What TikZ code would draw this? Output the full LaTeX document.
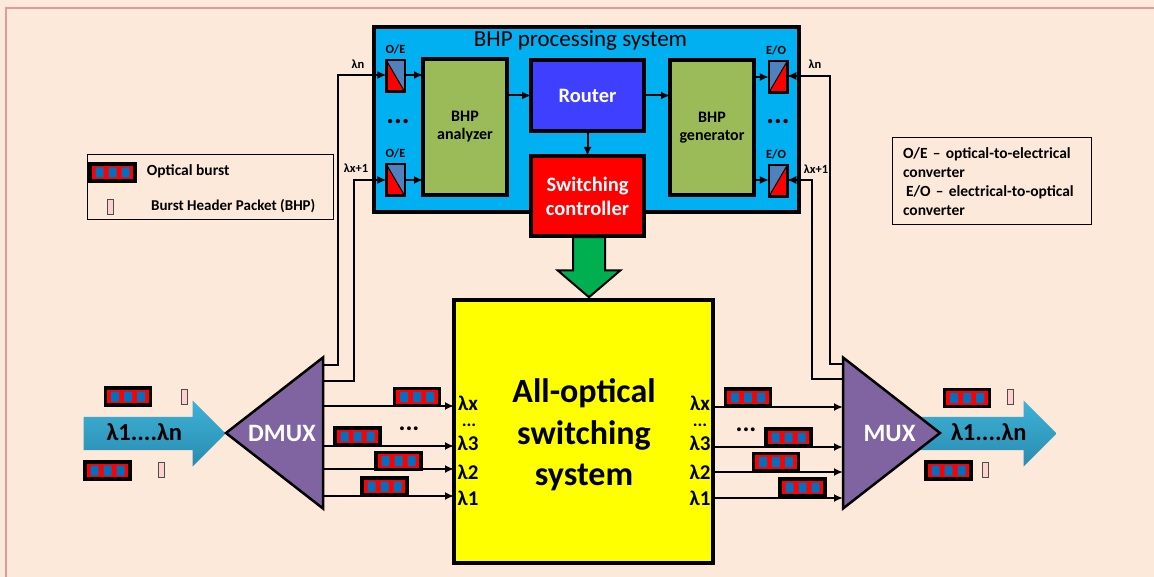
\documentclass[tikz,border=0pt]{standalone}
\usepackage{fontspec}
\setmainfont{Carlito}
\usetikzlibrary{arrows.meta,shapes.geometric,shapes.arrows,positioning}
\definecolor{pagepeach}{HTML}{FDE9D9}
\definecolor{pageedge}{HTML}{E39A9A}
\definecolor{systemblue}{HTML}{00B0F0}
\definecolor{olivegreen}{HTML}{9BBB59}
\definecolor{routerblue}{HTML}{3F3FFF}
\definecolor{steelblue}{HTML}{4F81BD}
\definecolor{burstblue}{HTML}{0070C0}
\definecolor{muxpurple}{HTML}{8064A2}
\definecolor{arrowgreen}{HTML}{00B050}
\definecolor{headerpink}{HTML}{FFD0D0}
\definecolor{flowtop}{HTML}{3DB2D6}
\definecolor{flowbottom}{HTML}{2A8BB0}
\definecolor{blockyellow}{HTML}{FFFF00}
\newcommand{\pxfont}[1]{\fontsize{#1}{#1}\selectfont}

\begin{document}
\begin{tikzpicture}[
  x=1pt,y=-1pt,
  >={Latex[length=9pt,width=8pt]},
  block/.style={rectangle,draw=black,line width=4pt,outer sep=0pt,align=center,font=\fontsize{16}{18}\bfseries\selectfont},
  oebox/.style={rectangle,draw=black,line width=2.5pt,minimum width=18.5pt,minimum height=31.5pt,outer sep=0pt,fill=steelblue,
    path picture={\fill[red] (path picture bounding box.north west) -- (path picture bounding box.south west) -- (path picture bounding box.south east) -- cycle;
      \draw[line width=1pt] (path picture bounding box.north west) -- (path picture bounding box.south east);}},
  eobox/.style={rectangle,draw=black,line width=2.5pt,minimum width=18.5pt,minimum height=31.5pt,outer sep=0pt,fill=steelblue,
    path picture={\fill[red] (path picture bounding box.north east) -- (path picture bounding box.south east) -- (path picture bounding box.south west) -- cycle;
      \draw[line width=1pt] (path picture bounding box.north east) -- (path picture bounding box.south west);}},
  burst/.style={rectangle,draw=black,line width=3.5pt,fill=red,minimum width=45pt,minimum height=17pt,inner sep=0pt,
    path picture={\begin{scope}[shift={(path picture bounding box.center)}]
      \fill[burstblue] (-17,-5) rectangle (-9,5) (-4,-5) rectangle (4,5) (9,-5) rectangle (17,5);
      \end{scope}}},
  header/.style={rectangle,draw=black!70,line width=1pt,fill=headerpink,minimum width=6pt,minimum height=15pt,inner sep=0pt},
  mux/.style={isosceles triangle,isosceles triangle stretches,draw=black,line width=2.5pt,fill=muxpurple,inner sep=0pt,outer sep=0pt,
    minimum width=151pt,minimum height=97pt,text=white,font=\pxfont{25}\bfseries},
  flow/.style={single arrow,single arrow head extend=16.5pt,minimum width=66pt,minimum height=142pt,inner xsep=0pt,inner ysep=8.5pt,
    text height=15pt,text depth=1pt,top color=flowtop,bottom color=flowbottom,draw=none,font=\pxfont{24.5}\bfseries},
  tag/.style={inner sep=0pt,font=\pxfont{12.5}\bfseries},
  wavelength/.style={inner sep=0pt,font=\pxfont{21}\bfseries},
  legendtext/.style={inner sep=0pt,font=\pxfont{15.5}\bfseries},
  legend/.style={rectangle,draw=black,line width=1pt,inner sep=0pt},
  wire/.style={->,line width=2pt},
  fibre/.style={->,line width=1.3pt}]

  \useasboundingbox (0,0) rectangle (1154,577);

  % page
  \fill[pagepeach] (0,0) rectangle (1154,577);
  \draw[pageedge,line width=2.5pt] (6,577) -- (6,8) -- (1154,8);

  % flows go under the triangles
  \node[flow,anchor=tip] (inflow) at (226,433.5) {λ1....λn\hspace*{4pt}};
  \node[flow,anchor=tip,minimum height=147pt] (outflow) at (1057,433.5) {\hspace*{28pt}λ1....λn};

  % main blocks
  \node[block,fill=blockyellow,minimum width=259pt,minimum height=263pt] (switch) at (583.5,431.5) {};
  \node[align=center,inner sep=0pt,font=\fontsize{34}{41.5}\bfseries\selectfont] (switch label) at (584,435) {All-optical\\switching\\system};
  \node[mux,shape border rotate=180,anchor=apex] (dmux) at (226,433) {DMUX};
  \node[mux,anchor=apex] (mux) at (940,433) {\hspace*{12pt}MUX};

  % processing system
  \node[block,line width=4.5pt,fill=systemblue,minimum width=425pt,minimum height=185pt] (system) at (586.5,119.5) {};
  \node[inner sep=0pt,font=\pxfont{23}] (system title) [below=3pt of system.north, xshift=-6pt] {BHP processing system};
  \node[block,fill=routerblue,text=white,minimum width=113pt,minimum height=71pt,font=\pxfont{20.5}\bfseries] (router) [below=33pt of system.north, xshift=1pt] {Router};
  \node[block,fill=red,text=white,minimum width=113pt,minimum height=80pt,font=\fontsize{20.5}{24}\bfseries\selectfont] (controller) [below=25pt of router] {Switching\\controller};
  \node[block,fill=olivegreen,minimum width=84pt,minimum height=136pt] (analyzer) [left=24pt of router, yshift=-31.5pt] {BHP\\analyzer};
  \node[block,fill=olivegreen,minimum width=84pt,minimum height=135pt] (generator) [right=26pt of router, yshift=-32pt] {BHP\\generator};

  \node[oebox] (oe top) at (395.5,76) {};
  \node[oebox] (oe bottom) [below=72.5pt of oe top] {};
  \node[eobox] (eo top) at (778,77) {};
  \node[eobox] (eo bottom) [below=72.5pt of eo top] {};
  \node[tag] (oe top tag) [above=5.5pt of oe top] {O/E};
  \node[tag] (oe bottom tag) [above=5.5pt of oe bottom] {O/E};
  \node[tag] (eo top tag) [above=5.5pt of eo top, xshift=-2pt] {E/O};
  \node[tag] (eo bottom tag) [above=5.5pt of eo bottom, xshift=-2pt] {E/O};
  \node[inner sep=0pt,font=\pxfont{29}\bfseries] (oe dots) at (398,122) {...};
  \node[inner sep=0pt,font=\pxfont{29}\bfseries] (eo dots) at (778,122) {...};

  \node[tag] (in n) at (358,64) {λn};
  \node[tag] (in x) at (356,168) {λx+1};
  \node[tag] (out n) at (815,64) {λn};
  \node[tag] (out x) at (816,169) {λx+1};

  % green arrow from controller to the switch
  \node[single arrow,single arrow head extend=15.5pt,single arrow tip angle=99,minimum width=61pt,minimum height=60pt,inner xsep=0pt,inner ysep=15pt,
    draw=black,line width=2pt,fill=arrowgreen,rotate=-90,anchor=tip] (command) at (589,298.5) {};

  % wavelength labels
  \node[wavelength] (in lx) at (468,403) {λx};
  \node[wavelength,font=\pxfont{18}\bfseries] (in dots) at (469,425) {...};
  \node[wavelength] (in l3) at (468,443) {λ3};
  \node[wavelength] (in l2) at (468,472) {λ2};
  \node[wavelength] (in l1) at (468,498) {λ1};
  \node[wavelength] (out lx) at (700,403) {λx};
  \node[wavelength,font=\pxfont{18}\bfseries] (out dots) at (700,425) {...};
  \node[wavelength] (out l3) at (700,443) {λ3};
  \node[wavelength] (out l2) at (700,472) {λ2};
  \node[wavelength] (out l1) at (700,498) {λ1};

  % free ends on the triangles
  \coordinate (dmux n) at (323,365);
  \coordinate (dmux x) at (323,381);
  \coordinate (mux n) at (843,364);
  \coordinate (mux x) at (843,379);

  \draw[fibre] (dmux n) -| (338,75) -- (oe top.west |- 0,75);
  \draw[fibre] (dmux x) -| (354,180) -- (oe bottom.west |- 0,180);
  \draw[fibre] (mux n) -| (830,76) -- (eo top.east |- 0,76);
  \draw[fibre] (mux x) -| (812,180) -- (eo bottom.east |- 0,180);

  \draw[wire] (oe top.east |- 0,75) -- (analyzer.west |- 0,75);
  \draw[wire] (oe bottom.east |- 0,180) -- (analyzer.west |- 0,180);
  \draw[wire] (analyzer.east |- router.west) -- (router.west);
  \draw[wire] (router.east) -- (generator.west |- router.east);
  \draw[wire] (router.south) -- (controller.north);
  \draw[fibre] (generator.east |- 0,77) -- (eo top.west |- 0,77);
  \draw[fibre] (generator.east |- 0,180) -- (eo bottom.west |- 0,180);

  \draw[wire] (323,406) -- (switch.west |- 0,406);
  \draw[wire] (323,446) -- (switch.west |- 0,446);
  \draw[wire] (323,469) -- (switch.west |- 0,469);
  \draw[wire] (323,496) -- (switch.west |- 0,496);
  \draw[wire] (switch.east |- 0,407) -- (843,407);
  \draw[wire] (switch.east |- 0,447) -- (843,447);
  \draw[wire] (switch.east |- 0,472) -- (843,472);
  \draw[wire] (switch.east |- 0,498) -- (843,498);

  % bursts and their headers
  \node[burst] (in burst a) at (128,396.5) {};
  \node[header] (in header a) at (184,397) {};
  \node[burst] (in burst b) at (107.5,470.5) {};
  \node[header] (in header b) at (161,470) {};
  \node[burst] (dmux burst x) at (417,397) {};
  \node[burst] (dmux burst c) at (357.5,436.5) {};
  \node[burst] (dmux burst b) at (398.5,461) {};
  \node[burst] (dmux burst a) at (384.5,486.5) {};
  \node[inner sep=0pt,font=\pxfont{26}\bfseries] (dmux dots) at (409,429) {...};
  \node[burst] (mux burst x) at (748,397.5) {};
  \node[burst] (mux burst c) at (788.5,437.5) {};
  \node[burst] (mux burst b) at (776,462) {};
  \node[burst] (mux burst a) at (802.5,487.5) {};
  \node[inner sep=0pt,font=\pxfont{26}\bfseries] (mux dots) at (746,430) {...};
  \node[burst] (out burst a) at (967,398) {};
  \node[header] (out header a) at (1010,397) {};
  \node[burst] (out burst b) at (948.5,470.5) {};
  \node[header] (out header b) at (985,470) {};

  % legends
  \node[legend,minimum width=246pt,minimum height=65pt] (burst legend) at (210,187.5) {};
  \node[burst] (legend burst) at (112.5,172.5) {};
  \node[header] (legend header) at (110.5,207.5) {};
  \node[legendtext] (legend burst text) [right=10pt of legend burst, yshift=1.5pt] {Optical burst};
  \node[legendtext,font=\pxfont{15}\bfseries] (legend header text) [right=37pt of legend header, yshift=1pt] {Burst Header Packet (BHP)};
  \node[legend,minimum width=199pt,minimum height=87pt,text width=177pt,align=left,font=\fontsize{15.5}{19}\bfseries\selectfont] (converter legend) at (991.5,181.5) {O/E – optical-to-electrical\\converter\\\hspace*{3pt}E/O – electrical-to-optical\\converter};
\end{tikzpicture}
\end{document}
